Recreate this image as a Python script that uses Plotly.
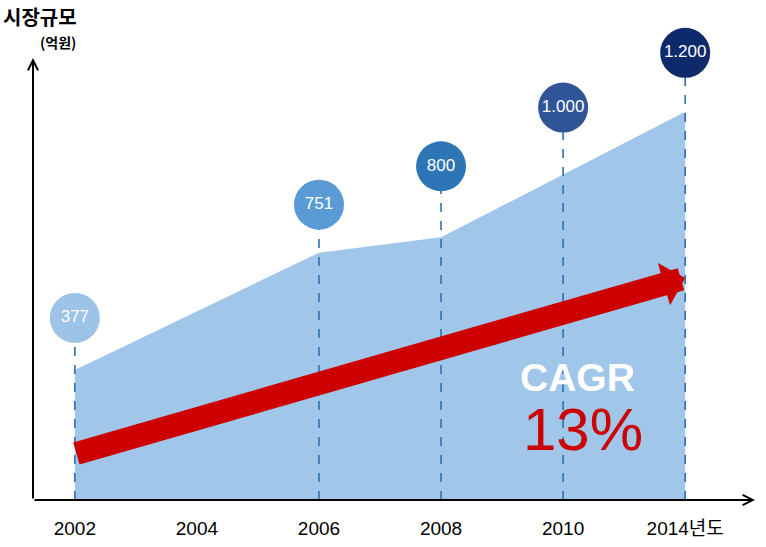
import plotly.graph_objects as go

# ---------------- data ----------------
categories = ["2002", "2004", "2006", "2008", "2010", "2014"]
tick_labels = ["2002", "2004", "2006", "2008", "2010", "2014년도"]
data_years = ["2002", "2006", "2008", "2010", "2014"]
market_size = [377, 751, 800, 1000, 1200]
bubble_colors = ["#9DC3E6", "#5B9BD5", "#2E75B6", "#2F5597", "#0E2A6B"]
cagr_label = "CAGR"
cagr_value = "13%"
title_text = "시장규모"
unit_text = "(억원)"

# ---------------- layout constants ----------------
W, H = 766, 547
M_L, M_R, M_T, M_B = 33, 11, 20, 47
PLOT_W = W - M_L - M_R
PLOT_H = H - M_T - M_B
BASE_PX = M_T + PLOT_H  # pixel row of the x axis
Y_MIN, Y_MAX = -38, 1493
X_RANGE = [-0.3429, 5.572]
units_per_px = (Y_MAX - Y_MIN) / PLOT_H
BUBBLE_LIFT_PX = [52, 48, 71, 67, 59]
ARROW_TAIL_Y, ARROW_TIP_Y = 109, 670

bubble_y = [v + lift * units_per_px for v, lift in zip(market_size, BUBBLE_LIFT_PX)]
bubble_text = [f"{v:,}".replace(",", ".") for v in market_size]

LATIN = "Liberation Sans, Arial, Noto Sans CJK KR, sans-serif"
KR = "Noto Sans CJK KR, sans-serif"


def px_x(p):
    return (p - M_L) / PLOT_W


def px_y(p):
    return (BASE_PX - p) / PLOT_H


fig = go.Figure()

# baseline for fill
fig.add_trace(go.Scatter(x=data_years, y=[Y_MIN] * len(data_years), mode="lines",
                         line=dict(width=0, color="rgba(0,0,0,0)"),
                         hoverinfo="skip", showlegend=False))
# area
fig.add_trace(go.Scatter(x=data_years, y=market_size, mode="lines", fill="tonexty",
                         fillcolor="#A0C6EA", line=dict(width=0, color="#A0C6EA"),
                         hoverinfo="skip", showlegend=False))
# dashed drop lines
for yr, by in zip(data_years, bubble_y):
    fig.add_trace(go.Scatter(x=[yr, yr], y=[Y_MIN, by], mode="lines",
                             line=dict(color="#2E6FB0", width=1.6, dash="dash"),
                             hoverinfo="skip", showlegend=False))
# bubbles
fig.add_trace(go.Scatter(x=data_years, y=bubble_y, mode="markers+text",
                         marker=dict(size=50, color=bubble_colors, line=dict(width=0)),
                         text=bubble_text, textposition="middle center",
                         textfont=dict(color="white", size=17, family=LATIN),
                         hoverinfo="skip", showlegend=False))

annotations = [
    # x axis arrow
    dict(x=1, y=0, xref="paper", yref="paper", ax=-PLOT_W, ay=0,
         text="", showarrow=True, arrowhead=5, arrowsize=1, arrowwidth=2, arrowcolor="black"),
    # y axis arrow
    dict(x=0, y=px_y(58), xref="paper", yref="paper", ax=0, ay=BASE_PX - 58,
         text="", showarrow=True, arrowhead=5, arrowsize=1, arrowwidth=2, arrowcolor="black"),
    # red CAGR arrow
    dict(x=5, y=ARROW_TIP_Y, xref="x", yref="y", ax=0, ay=ARROW_TAIL_Y, axref="x", ayref="y",
         text="", showarrow=True, arrowhead=1, arrowsize=0.32, arrowwidth=23,
         arrowcolor="#CC0000"),
    dict(x=px_x(577), y=px_y(377), xref="paper", yref="paper", text=f"<b>{cagr_label}</b>",
         showarrow=False, font=dict(color="white", size=39, family=LATIN),
         xanchor="center", yanchor="middle"),
    dict(x=px_x(583), y=px_y(429), xref="paper", yref="paper", text=cagr_value,
         showarrow=False, font=dict(color="#CC0000", size=60, family=LATIN),
         xanchor="center", yanchor="middle"),
    dict(x=px_x(1), y=px_y(17), xref="paper", yref="paper", text=f"<b>{title_text}</b>",
         showarrow=False, xanchor="left", yanchor="middle",
         font=dict(color="black", size=20, family=KR)),
    dict(x=px_x(58), y=px_y(42), xref="paper", yref="paper", text=f"<b>{unit_text}</b>",
         showarrow=False, xanchor="center", yanchor="middle",
         font=dict(color="black", size=14, family=KR)),
]

fig.update_layout(
    width=W, height=H,
    margin=dict(l=M_L, r=M_R, t=M_T, b=M_B, pad=0, autoexpand=False),
    paper_bgcolor="white", plot_bgcolor="white",
    showlegend=False,
    xaxis=dict(type="category", categoryorder="array", categoryarray=categories,
               tickmode="array", tickvals=categories, ticktext=tick_labels,
               range=X_RANGE, showgrid=False, zeroline=False, showline=False,
               ticks="", ticklabelstandoff=15,
               tickfont=dict(size=19, color="black", family=LATIN)),
    yaxis=dict(range=[Y_MIN, Y_MAX], visible=False, showgrid=False, zeroline=False),
    annotations=annotations,
)

fig.write_html("out.html", config={"displayModeBar": False},
               post_script="document.body.style.margin='0';document.body.style.overflow='hidden';")
